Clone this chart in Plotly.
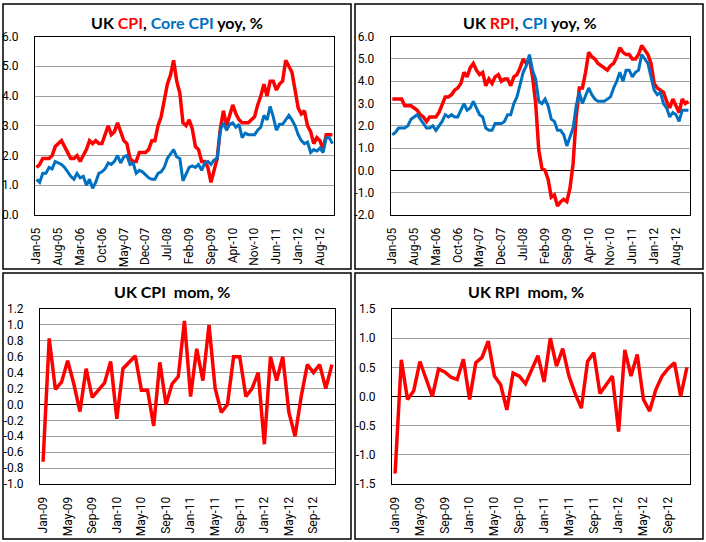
import plotly.graph_objects as go
import pandas as pd

# ---------------- data ----------------
months_yoy = pd.date_range("2005-01-01", "2012-12-01", freq="MS").strftime("%b-%y").tolist()
months_mom = pd.date_range("2009-01-01", "2012-12-01", freq="MS").strftime("%b-%y").tolist()

cpi_yoy = [1.6, 1.7, 1.9, 1.9, 1.9, 2.0, 2.3, 2.4, 2.5, 2.3, 2.1, 1.9,
           1.9, 2.0, 1.8, 2.0, 2.2, 2.5, 2.4, 2.5, 2.4, 2.4, 2.7, 3.0,
           2.7, 2.8, 3.1, 2.8, 2.5, 2.4, 1.9, 1.8, 1.8, 2.1, 2.1, 2.1,
           2.2, 2.5, 2.5, 3.0, 3.3, 3.8, 4.4, 4.7, 5.2, 4.5, 4.1, 3.1,
           3.0, 3.2, 2.9, 2.3, 2.2, 1.8, 1.8, 1.6, 1.1, 1.5, 1.9, 2.9,
           3.5, 3.0, 3.4, 3.7, 3.4, 3.2, 3.1, 3.1, 3.1, 3.2, 3.3, 3.7,
           4.0, 4.4, 4.0, 4.5, 4.5, 4.2, 4.4, 4.5, 5.2, 5.0, 4.8, 4.2,
           3.6, 3.4, 3.5, 3.0, 2.8, 2.4, 2.6, 2.5, 2.2, 2.7, 2.7, 2.7]

core_cpi_yoy = [1.2, 1.1, 1.4, 1.4, 1.6, 1.55, 1.8, 1.75, 1.7, 1.6, 1.45, 1.3,
                1.2, 1.4, 1.25, 1.3, 1.0, 1.2, 0.9, 1.1, 1.4, 1.45, 1.55, 1.75,
                1.7, 1.8, 2.0, 1.75, 1.95, 2.0, 1.7, 1.75, 1.4, 1.5, 1.45, 1.35,
                1.25, 1.2, 1.2, 1.4, 1.45, 1.6, 1.9, 2.05, 2.2, 1.95, 1.9, 1.15,
                1.35, 1.6, 1.65, 1.6, 1.7, 1.5, 1.75, 1.8, 1.7, 1.85, 1.9, 2.85,
                3.1, 2.85, 3.05, 3.1, 2.95, 3.05, 2.6, 2.75, 2.7, 2.7, 2.7, 2.85,
                2.95, 3.35, 3.2, 3.65, 3.3, 2.85, 3.05, 3.05, 3.2, 3.35, 3.2, 3.0,
                2.7, 2.5, 2.4, 2.45, 2.1, 2.2, 2.15, 2.25, 2.1, 2.6, 2.6, 2.4]

rpi_yoy = [3.2, 3.2, 3.2, 3.2, 2.9, 2.9, 2.9, 2.8, 2.7, 2.5, 2.4, 2.2,
           2.4, 2.4, 2.4, 2.6, 3.0, 3.3, 3.3, 3.4, 3.6, 3.7, 3.9, 4.4,
           4.2, 4.6, 4.8, 4.5, 4.3, 4.4, 3.8, 4.1, 3.9, 4.2, 4.3, 4.0,
           4.1, 4.1, 3.8, 4.2, 4.3, 4.6, 5.0, 4.8, 5.0, 4.2, 3.0, 0.9,
           0.1, 0.0, -0.4, -1.2, -1.1, -1.6, -1.4, -1.3, -1.4, -0.8, 0.3, 2.4,
           3.7, 3.7, 4.4, 5.3, 5.1, 5.0, 4.8, 4.7, 4.6, 4.5, 4.7, 4.8,
           5.1, 5.5, 5.3, 5.2, 5.2, 5.0, 5.0, 5.2, 5.6, 5.4, 5.2, 4.8,
           3.9, 3.7, 3.6, 3.5, 3.1, 2.8, 3.2, 2.9, 2.6, 3.2, 3.0, 3.1]

cpi_mom = [-0.72, 0.83, 0.19, 0.28, 0.55, 0.26, -0.09, 0.45, 0.09, 0.18, 0.27, 0.54,
           -0.18, 0.45, 0.53, 0.61, 0.18, 0.18, -0.27, 0.53, 0.0, 0.26, 0.35, 1.05,
           0.1, 0.7, 0.3, 1.0, 0.2, -0.1, 0.0, 0.6, 0.6, 0.1, 0.2, 0.4,
           -0.5, 0.6, 0.3, 0.6, -0.1, -0.4, 0.1, 0.5, 0.4, 0.5, 0.2, 0.5]

rpi_mom = [-1.32, 0.63, -0.05, 0.1, 0.6, 0.3, 0.0, 0.47, 0.42, 0.33, 0.29, 0.64,
           -0.05, 0.58, 0.67, 0.95, 0.35, 0.2, -0.23, 0.4, 0.35, 0.22, 0.45, 0.7,
           0.25, 1.0, 0.52, 0.82, 0.35, 0.05, -0.2, 0.6, 0.75, 0.05, 0.2, 0.35,
           -0.6, 0.8, 0.35, 0.72, -0.05, -0.25, 0.12, 0.35, 0.48, 0.58, 0.0, 0.5]

ticks_yoy = months_yoy[::7]
ticks_mom = months_mom[::4]

yticks_tl = [0.0, 1.0, 2.0, 3.0, 4.0, 5.0, 6.0]
yticks_tr = [-2.0, -1.0, 0.0, 1.0, 2.0, 3.0, 4.0, 5.0, 6.0]
yticks_bl = [-1.0, -0.8, -0.6, -0.4, -0.2, 0.0, 0.2, 0.4, 0.6, 0.8, 1.0, 1.2]
yticks_br = [-1.5, -1.0, -0.5, 0.0, 0.5, 1.0, 1.5]

RED = "#FF0000"
BLUE = "#0070C0"
TFONT = "Lato"
KFONT = "Roboto"
W, H = 706, 542

fig = go.Figure()

def px_x(v):
    return v / W

def px_y(v):
    return 1 - v / H

def fmt(v):
    return f"{v:.1f}"

panels = [
    ("", (35, 334), (36.5, 215), yticks_tl, months_yoy, ticks_yoy),
    ("2", (390.7, 690), (36.7, 215), yticks_tr, months_yoy, ticks_yoy),
    ("3", (40, 335), (309, 484), yticks_bl, months_mom, ticks_mom),
    ("4", (392, 690), (309, 484), yticks_br, months_mom, ticks_mom),
]

for aid, xd, yd, yt, cats, tks in panels:
    xa = dict(
        domain=[px_x(xd[0]), px_x(xd[1])],
        anchor="y" + aid,
        type="category",
        categoryorder="array",
        categoryarray=cats,
        range=[-0.5, len(cats) - 0.5],
        tickmode="array",
        tickvals=tks,
        ticktext=tks,
        tickangle=-90,
        showgrid=False,
        showline=True, linecolor="black", linewidth=1, mirror=True,
        ticks="", ticklabelstandoff=7,
        automargin=False,
        tickfont=dict(family=KFONT, size=12, color="black"),
        fixedrange=True,
    )
    ya = dict(
        domain=[px_y(yd[1]), px_y(yd[0])],
        anchor="x" + aid,
        range=[yt[0], yt[-1]],
        tickmode="array",
        tickvals=yt,
        ticktext=[fmt(v) for v in yt],
        showgrid=True, gridcolor="#A0A0A0", gridwidth=1,
        zeroline=True, zerolinecolor="black", zerolinewidth=1,
        showline=True, linecolor="black", linewidth=1, mirror=True,
        ticks="", ticklabelstandoff=13,
        automargin=False,
        tickfont=dict(family=KFONT, size=12, color="black"),
        fixedrange=True,
    )
    fig.update_layout(**{"xaxis" + aid: xa, "yaxis" + aid: ya})

# traces
fig.add_trace(go.Scatter(x=months_yoy, y=cpi_yoy, mode="lines", line=dict(color=RED, width=3.5),
                         xaxis="x", yaxis="y", name="CPI"))
fig.add_trace(go.Scatter(x=months_yoy, y=core_cpi_yoy, mode="lines", line=dict(color=BLUE, width=3),
                         xaxis="x", yaxis="y", name="Core CPI"))
fig.add_trace(go.Scatter(x=months_yoy, y=rpi_yoy, mode="lines", line=dict(color=RED, width=3.5),
                         xaxis="x2", yaxis="y2", name="RPI"))
fig.add_trace(go.Scatter(x=months_yoy, y=cpi_yoy, mode="lines", line=dict(color=BLUE, width=3),
                         xaxis="x2", yaxis="y2", name="CPI"))
fig.add_trace(go.Scatter(x=months_mom, y=cpi_mom, mode="lines", line=dict(color=RED, width=3.5),
                         xaxis="x3", yaxis="y3", name="CPI mom"))
fig.add_trace(go.Scatter(x=months_mom, y=rpi_mom, mode="lines", line=dict(color=RED, width=3.5),
                         xaxis="x4", yaxis="y4", name="RPI mom"))

# panel borders
shapes = []
for (x0, y0, x1, y1) in [(3, 4, 351, 269), (355, 4, 703, 269), (3, 273, 351, 539), (355, 273, 703, 539)]:
    shapes.append(dict(type="rect", xref="paper", yref="paper",
                       x0=px_x(x0), x1=px_x(x1), y0=px_y(y1), y1=px_y(y0),
                       line=dict(color="black", width=1.5), fillcolor="rgba(0,0,0,0)", layer="below"))

def span(t, c):
    return f"<span style='color:{c}'>{t}</span>"

titles = [
    ("<b>UK " + span("CPI", RED) + ", " + span("Core CPI", BLUE) + " yoy, %</b>", 177, 22),
    ("<b>UK " + span("RPI", RED) + ", " + span("CPI", BLUE) + " yoy, %</b>", 530, 22),
    ("<b>UK CPI&nbsp;&nbsp;mom, %</b>", 172, 291),
    ("<b>UK RPI&nbsp;&nbsp;mom, %</b>", 526, 291),
]
annotations = []
for txt, cx, cy in titles:
    annotations.append(dict(text=txt, xref="paper", yref="paper", x=px_x(cx), y=px_y(cy),
                            xanchor="center", yanchor="middle", showarrow=False,
                            font=dict(family=TFONT, size=16, color="black")))

fig.update_layout(
    width=W, height=H,
    margin=dict(l=0, r=0, t=0, b=0, pad=0, autoexpand=False),
    paper_bgcolor="white", plot_bgcolor="white",
    showlegend=False,
    hovermode=False,
    shapes=shapes,
    annotations=annotations,
)

fig.write_html("out.html", config={"displayModeBar": False, "staticPlot": True},
               post_script="document.body.style.margin='0px';document.body.style.overflow='hidden';")
